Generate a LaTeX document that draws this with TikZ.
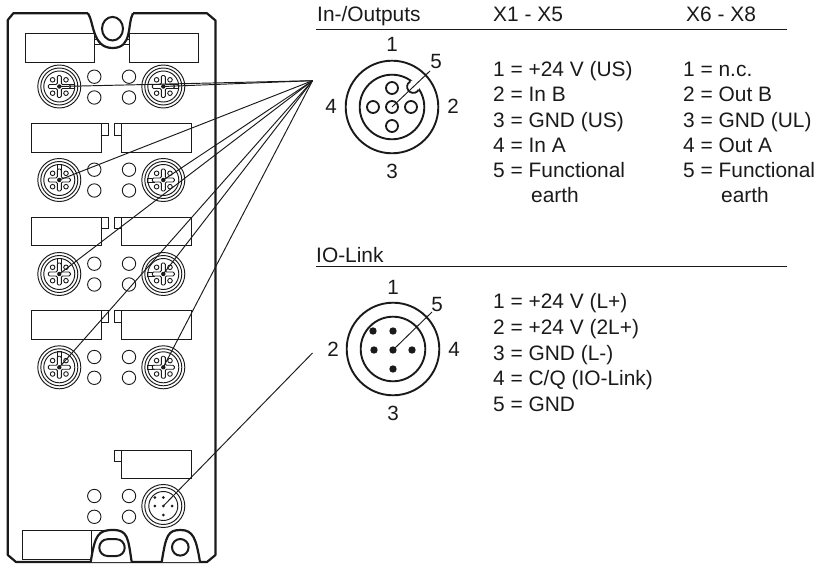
\documentclass[tikz,border=0pt]{standalone}
\usepackage{fontspec}
\setmainfont{Liberation Sans}
\definecolor{ink}{HTML}{1A1A1A}
\tikzset{x=1pt,y=-1pt,
 body/.style={draw=ink,line width=2.2pt,line join=round},
 hole/.style={draw=ink,line width=2pt},
 lab/.style={draw=ink,line width=1pt,fill=white},
 led/.style={draw=ink,line width=0.9pt,fill=white,circle,minimum size=13.4pt,inner sep=0pt},
 lead/.style={draw=ink,line width=0.95pt},
 rule/.style={draw=ink,line width=0.9pt},
 ring/.style={draw=ink,line width=0.95pt},
 bigring/.style={draw=ink,line width=1.9pt},
 pin/.style={circle,draw=ink,line width=1.8pt,minimum size=12pt,inner sep=0pt},
 txt/.style={font=\fontsize{20.9}{24}\selectfont,text=ink,inner sep=0pt,anchor=base west,align=left},
 num/.style={font=\fontsize{20.6}{24}\selectfont,text=ink,inner sep=0pt}
}
\newcommand{\mconn}[3]{%
 \begin{scope}[shift={(#1)}]
 \node[name=#2,circle,minimum size=2pt,inner sep=0pt] at (0,0) {};
 \foreach \r in {21.5,18.5,15.5}{\draw[ring] (0,0) circle[radius=\r];}
 \draw[ink,line width=0.9pt,rotate=#3] (9,-2) rectangle (15.5,2);
 \draw[ink,line width=0.9pt,fill=white,rounded corners=1.2pt] (-2,-11)--(2,-11)--(2,-2)--(11,-2)--(11,2)--(2,2)--(2,11)--(-2,11)--(-2,2)--(-11,2)--(-11,-2)--(-2,-2)--cycle;
 \foreach \a/\b in {-6.7/-6.7,6.7/-6.7,-6.7/6.7,6.7/6.7}{\draw[ink,line width=0.9pt] (\a,\b) circle[radius=2.3];}
 \fill[ink] (0,0) circle[radius=2.2];
 \end{scope}}
\newcommand{\ledpair}[3]{%
 \node[led,name=#3a] at (#1,#2) {};
 \node[led,name=#3b] at (#1,#2+20.8) {};}
\begin{document}
\begin{tikzpicture}
\useasboundingbox (0,0) rectangle (815,564);
% labels
\foreach \xa/\xb/\y in {25/94.3/33.3,129/198.3/33.3}{\draw[lab] (\xa,\y) rectangle (\xb,\y+29);}
\draw[lab] (94.3,40) rectangle (102,45);
\draw[lab] (121,40) rectangle (129,45);
\foreach \y in {124,217.3,311}{
 \draw[lab] (101.7,\y) rectangle (108.8,\y+11.5);
 \draw[lab] (114.3,\y) rectangle (121.5,\y+11.5);
 \draw[lab] (31.7,\y) rectangle (101.7,\y+28.7);
 \draw[lab] (121.5,\y) rectangle (191,\y+28.7);}
\draw[lab] (114.3,450) rectangle (121.5,461.5);
\draw[lab] (121.5,450) rectangle (191,478.5);
\draw[lab] (22.3,530.7) rectangle (91.7,559.3);
\draw[ink,line width=1pt] (91.7,530.7)--(104,530.7);
% body
\draw[body] (88,13.3) -- (13.3,13.3) -- (7.8,20) -- (7.8,555) -- (16,562) -- (207,562) -- (215.5,555) -- (215.5,20.5) -- (207,13.3) -- (133,13.3);
\draw[body,fill=white] (88,13.3) .. controls (94,22) and (92,48) .. (112.7,48) .. controls (133,48) and (127,24) .. (133,13.3);
\draw[hole] (112.5,28.7) ellipse[x radius=10.5,y radius=11.8];
% LEDs
\foreach \y/\k in {76.7/p,169.7/q,263.7/r,357/s,496/t}{
 \ledpair{94.3}{\y}{l\k}
 \ledpair{129}{\y}{m\k}}
% connectors
\mconn{59.3,86.5}{ca}{0}
\mconn{163.3,86.5}{cb}{0}
\mconn{59.3,180}{cc}{90}
\mconn{163.3,180}{cd}{180}
\mconn{59.3,274}{ce}{90}
\mconn{163.3,274}{cf}{180}
\mconn{59.3,367.3}{cg}{90}
\mconn{163.3,367.3}{ch}{180}
% IO-link connector on device
\begin{scope}[shift={(163.3,506)}]
 \node[name=ci,circle,minimum size=2pt,inner sep=0pt] at (0,0) {};
 \foreach \r in {21.5,18.5,14.5}{\draw[ring] (0,0) circle[radius=\r];}
 \foreach \a/\b in {-8.5/-8.5,0/-8.5,-8.5/0,0/0,8.8/0,0/9}{\fill[ink] (\a,\b) circle[radius=1.5];}
\end{scope}
% bottom tabs
\draw[body,fill=white] (90.7,562) .. controls (95,535) and (98,530) .. (113,530) .. controls (128,530) and (128,538) .. (131.7,562);
\draw[hole,rounded corners=8.3pt] (99.3,539.2) rectangle (124.7,556);
\draw[body,fill=white] (161.7,562) .. controls (166,535) and (168,530) .. (180.5,530) .. controls (193,530) and (196,538) .. (200,562);
\draw[hole] (180.3,547.3) circle[radius=8.3];
% hub
\coordinate (hub) at (312.5,80.7);
\coordinate (hubio) at (312.5,353);
\foreach \c in {ca,cb,cc,cd,ce,cf,cg,ch}{\draw[lead] (hub) -- (\c.center);}
\draw[lead] (hubio) -- (ci.center);
% headings
\node[txt] at (317,22) {In-/Outputs};
\node[txt] at (493,22) {X1 - X5};
\node[txt] at (686,22) {X6 - X8};
\draw[rule] (316,29.5) -- (787,29.5);
\node[txt] at (316,263) {IO-Link};
\draw[rule] (316,266.7) -- (787,266.7);
% pin picture 1
\coordinate (u) at (392,107);
\draw[bigring] (u) circle[radius=46.3];
\draw[bigring] (u) circle[radius=32.3];
\fill[white] (413.3,86.7) circle[radius=6.2];
\draw[ink,line width=1.8pt] (413.3,86.7) ++(30:6.2) arc[start angle=30,end angle=242,radius=6.2];
\node[pin,name=p1] at (392,88) {};
\node[pin,name=p2] at (411,107) {};
\node[pin,name=p3] at (392,126) {};
\node[pin,name=p4] at (373,107) {};
\node[pin,name=p5] at (392,107) {};
\coordinate (e5) at (430,71);
\draw[lead] (p5.center) -- (e5);
\node[num] at (392,44) {1};
\node[num] at (453,106) {2};
\node[num] at (392,171) {3};
\node[num] at (331,106) {4};
\node[num] at (436,62) {5};
% pin picture 2
\coordinate (v) at (393,349);
\draw[bigring] (v) circle[radius=46.3];
\draw[bigring] (v) circle[radius=32.3];
\foreach \a/\b in {-20/-18,0/-18,-19/1,0/1,19/1,0/20}{\fill[ink] (393+\a,349+\b) circle[radius=3.7];}
\coordinate (q0) at (393,350);
\coordinate (q5) at (432,312);
\draw[lead] (q0) -- (q5);
\node[num] at (393,287) {1};
\node[num] at (333,349) {2};
\node[num] at (393,413) {3};
\node[num] at (454,349) {4};
\node[num] at (437,305) {5};
% tables
\node[txt] at (493,76.5) {1 = +24 V (US)};
\node[txt] at (493,101.8) {2 = In B};
\node[txt] at (493,127.1) {3 = GND (US)};
\node[txt] at (493,152.4) {4 = In A};
\node[txt] at (493,177.7) {5 = Functional};
\node[txt] at (531,203) {earth};
\node[txt] at (683,76.5) {1 = n.c.};
\node[txt] at (683,101.8) {2 = Out B};
\node[txt] at (683,127.1) {3 = GND (UL)};
\node[txt] at (683,152.4) {4 = Out A};
\node[txt] at (683,177.7) {5 = Functional};
\node[txt] at (721,203) {earth};
\node[txt] at (493,309) {1 = +24 V (L+)};
\node[txt] at (493,334.6) {2 = +24 V (2L+)};
\node[txt] at (493,360.2) {3 = GND (L-)};
\node[txt] at (493,385.8) {4 = C/Q (IO-Link)};
\node[txt] at (493,411.4) {5 = GND};
\end{tikzpicture}
\end{document}
